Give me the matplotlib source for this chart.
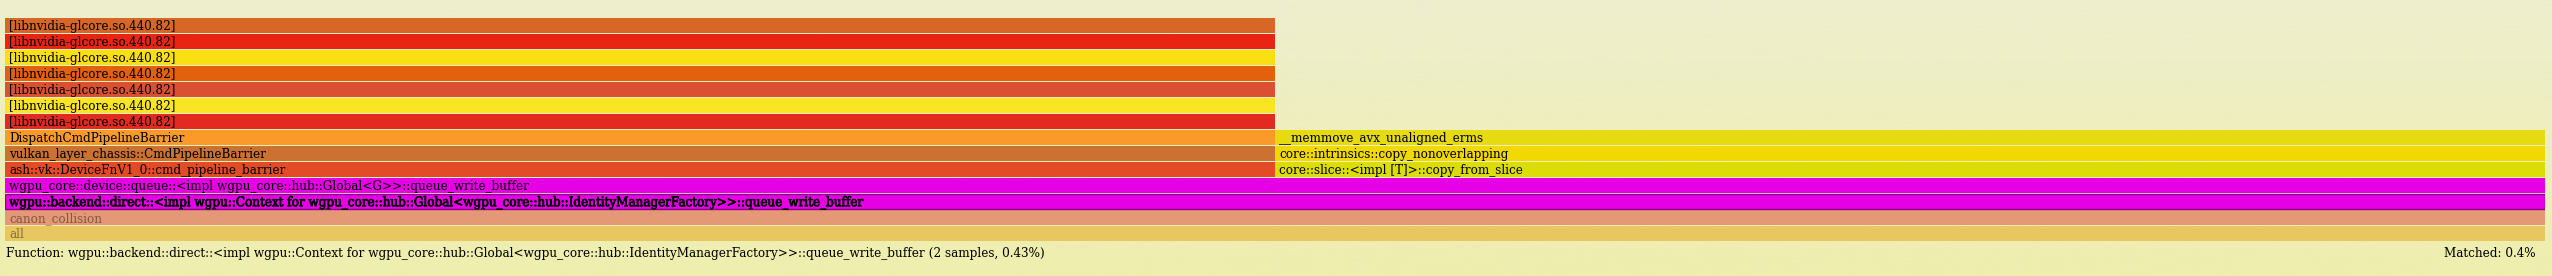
import numpy as np
import matplotlib
matplotlib.use("Agg")
import matplotlib.pyplot as plt
import matplotlib.patheffects as pe

W, H, DPI = 2552, 276, 100

# ---- data (samples) ----
frame_names = [
    "all",
    "canon_collision",
    "wgpu::backend::direct::<impl wgpu::Context for wgpu_core::hub::Global<wgpu_core::hub::IdentityManagerFactory>>::queue_write_buffer",
    "wgpu_core::device::queue::<impl wgpu_core::hub::Global<G>>::queue_write_buffer",
    "ash::vk::DeviceFnV1_0::cmd_pipeline_barrier",
    "core::slice::<impl [T]>::copy_from_slice",
    "vulkan_layer_chassis::CmdPipelineBarrier",
    "core::intrinsics::copy_nonoverlapping",
    "DispatchCmdPipelineBarrier",
    "__memmove_avx_unaligned_erms",
    "[libnvidia-glcore.so.440.82]",
    "[libnvidia-glcore.so.440.82]",
    "[libnvidia-glcore.so.440.82]",
    "[libnvidia-glcore.so.440.82]",
    "[libnvidia-glcore.so.440.82]",
    "[libnvidia-glcore.so.440.82]",
    "[libnvidia-glcore.so.440.82]",
]
frame_depth = [0, 1, 2, 3, 4, 4, 5, 5, 6, 6, 7, 8, 9, 10, 11, 12, 13]
frame_start = [0, 0, 0, 0, 0, 1, 0, 1, 0, 1, 0, 0, 0, 0, 0, 0, 0]
frame_width = [2, 2, 2, 2, 1, 1, 1, 1, 1, 1, 1, 1, 1, 1, 1, 1, 1]
frame_color = [
    "#e8c760", "#e49876", "#e600e6", "#e600e6",
    "#e34a26", "#dcdc06", "#cb7233", "#f0d800",
    "#fa9a2a", "#e6da10",
    "#e22a20", "#fae524", "#d95130", "#e3600c", "#fadf12", "#e92412", "#d66726",
]
frame_state = ["parent", "parent", "selected", "normal", "normal", "normal", "normal", "normal",
               "normal", "normal", "normal", "normal", "normal", "normal", "normal", "normal", "normal"]

total_samples = 2
max_depth = 14
details_text = ("Function: wgpu::backend::direct::<impl wgpu::Context for wgpu_core::hub::Global"
                "<wgpu_core::hub::IdentityManagerFactory>>::queue_write_buffer (2 samples, 0.43%)")
matched_text = "Matched: 0.4%"

# ---- figure ----
fig = plt.figure(figsize=(W / DPI, H / DPI), dpi=DPI)

# background gradient
bg = fig.add_axes([0, 0, 1, 1])
grad = np.linspace(0, 1, 256)[:, None]
c0 = np.array([238, 238, 206]) / 255.0
c1 = np.array([238, 238, 174]) / 255.0
img = c0[None, None, :] * (1 - grad[..., None]) + c1[None, None, :] * grad[..., None]
bg.imshow(img, aspect="auto", extent=[0, 1, 0, 1], origin="upper")
bg.set_axis_off()

left_px, right_px = 5, 2545
top_px, bottom_px = 18, 242
ax = fig.add_axes([left_px / W, (H - bottom_px) / H,
                   (right_px - left_px) / W, (bottom_px - top_px) / H])
ax.set_xlim(0, total_samples)
ax.set_ylim(0, max_depth)
ax.set_axis_off()
ax.patch.set_alpha(0)

gap = 1.0 / 16
FS = 9.6
fontkw = dict(family="DejaVu Serif", fontstretch="condensed")

for name, d, s, w, col, st in zip(frame_names, frame_depth, frame_start,
                                  frame_width, frame_color, frame_state):
    ec = "#8a008a" if st == "selected" else "none"
    lw = 1.0 if st == "selected" else 0
    ax.barh(d + gap, w, left=s, height=1 - gap, align="edge", color=col,
            edgecolor=ec, linewidth=lw)
    alpha = 0.42 if st == "parent" else 1.0
    effects = [pe.withStroke(linewidth=0.5, foreground="black")] if st == "selected" else None
    ax.annotate(name, xy=(s, d + gap), xytext=(2.9, 2.0), textcoords="offset points",
                ha="left", va="baseline", fontsize=FS, color="#000000", alpha=alpha,
                path_effects=effects, annotation_clip=False, **fontkw)

fig.text(6 / W, 1 - 257 / H, details_text, ha="left", va="baseline",
         fontsize=FS, color="#000000", **fontkw)
fig.text(2536 / W, 1 - 257 / H, matched_text, ha="right", va="baseline",
         fontsize=FS, color="#000000", **fontkw)

fig.savefig("out.png", dpi=DPI)
